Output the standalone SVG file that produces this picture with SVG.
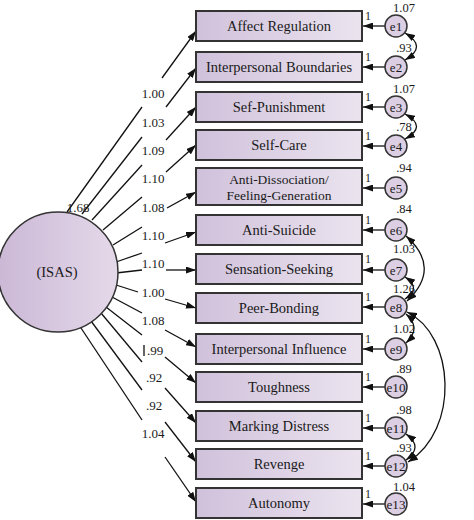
<svg xmlns="http://www.w3.org/2000/svg" width="474" height="520" viewBox="0 0 474 520">
<defs>
<linearGradient id="gb" x1="0" y1="0" x2="1" y2="0">
<stop offset="0" stop-color="#d0c1db"/><stop offset="1" stop-color="#ebe4ef"/>
</linearGradient>
<linearGradient id="gc" x1="0" y1="0" x2="1" y2="0">
<stop offset="0" stop-color="#cbb8d6"/><stop offset="1" stop-color="#e4d9e9"/>
</linearGradient>
<marker id="ah" viewBox="0 0 10 7" refX="10" refY="3.5" markerWidth="10" markerHeight="7" markerUnits="userSpaceOnUse" orient="auto-start-reverse">
<path d="M0,0 L10,3.5 L0,7 z" fill="#111"/>
</marker>
<style>
.box{fill:url(#gb);stroke:#333;stroke-width:2}
.err{fill:#dccfe3;stroke:#333;stroke-width:1.5}
.lat{fill:url(#gc);stroke:#333;stroke-width:1.5}
.ln{stroke:#111;stroke-width:1.3;fill:none}
.ar{stroke:#111;stroke-width:1.3;fill:none;marker-end:url(#ah)}
.cv{stroke:#111;stroke-width:1.3;fill:none;marker-start:url(#ah);marker-end:url(#ah)}
text{font-family:"Liberation Serif","Times New Roman",serif;fill:#1a1a1a}
.bt{font-size:14.5px;text-anchor:middle}
.bt2{font-size:13.5px;text-anchor:middle}
.lb{font-size:13px;text-anchor:middle}
.et{font-size:13px;text-anchor:middle}
.one{font-size:12px}
.vr{font-size:12.5px;text-anchor:middle}
</style>
</defs>

<g id="connectors">
<line class="ln" x1="67" y1="212" x2="142" y2="107"/><line class="ar" x1="162" y1="78" x2="196" y2="31"/>
<line class="ln" x1="82" y1="214" x2="142" y2="137"/><line class="ar" x1="166" y1="107" x2="196" y2="68"/>
<line class="ln" x1="92" y1="220" x2="142" y2="165"/><line class="ar" x1="166" y1="140" x2="196" y2="107"/>
<line class="ln" x1="103" y1="230" x2="142" y2="197"/><line class="ar" x1="166" y1="172" x2="196" y2="145"/>
<line class="ln" x1="113" y1="245" x2="142" y2="227"/><line class="ar" x1="167" y1="208" x2="196" y2="192"/>
<line class="ln" x1="116" y1="262" x2="142" y2="253"/><line class="ar" x1="165" y1="243" x2="196" y2="232"/>
<line class="ln" x1="116" y1="273" x2="142" y2="270"/><line class="ar" x1="166" y1="270" x2="196" y2="270"/>
<line class="ln" x1="116" y1="285" x2="138" y2="292"/><line class="ar" x1="165" y1="299" x2="196" y2="308"/>
<line class="ln" x1="112" y1="297" x2="142" y2="313"/><line class="ar" x1="165" y1="330" x2="196" y2="347"/>
<line class="ln" x1="106" y1="307" x2="142" y2="335"/><line class="ar" x1="165" y1="357" x2="196" y2="383"/>
<line class="ln" x1="101" y1="313" x2="142" y2="362"/><line class="ar" x1="165" y1="388" x2="196" y2="423"/>
<line class="ln" x1="91" y1="321" x2="142" y2="390"/><line class="ar" x1="165" y1="422" x2="196" y2="462"/>
<line class="ln" x1="79" y1="325" x2="142" y2="420"/><line class="ar" x1="165" y1="457" x2="196" y2="502"/>
<line class="ln" x1="144" y1="345" x2="144" y2="356"/>

<line class="ar" x1="385" y1="26" x2="363" y2="26"/>
<line class="ar" x1="385" y1="67" x2="363" y2="67"/>
<line class="ar" x1="385" y1="107" x2="363" y2="107"/>
<line class="ar" x1="385" y1="146" x2="363" y2="146"/>
<line class="ar" x1="385" y1="188" x2="363" y2="188"/>
<line class="ar" x1="385" y1="230" x2="363" y2="230"/>
<line class="ar" x1="385" y1="270" x2="363" y2="270"/>
<line class="ar" x1="385" y1="307" x2="363" y2="307"/>
<line class="ar" x1="385" y1="349" x2="363" y2="349"/>
<line class="ar" x1="385" y1="387" x2="363" y2="387"/>
<line class="ar" x1="385" y1="428" x2="363" y2="428"/>
<line class="ar" x1="385" y1="466" x2="363" y2="466"/>
<line class="ar" x1="385" y1="504" x2="363" y2="504"/>

<path class="cv" d="M405,33 Q428,46.5 405,60"/>
<path class="cv" d="M405,114 Q428,126.5 405,139"/>
<path class="cv" d="M406,236 Q442,268 407,301"/>
<path class="cv" d="M405,277 Q422,288 405,299"/>
<path class="cv" d="M406,314 Q422,328 406,343"/>
<path class="cv" d="M407,312 C455,335 460,430 408,462"/>
<path class="cv" d="M406,434 Q424,447 406,460"/>
</g>

<g id="labels">
<text class="lb" x="153" y="98">1.00</text>
<text class="lb" x="153" y="127">1.03</text>
<text class="lb" x="153" y="155">1.09</text>
<text class="lb" x="153" y="183">1.10</text>
<text class="lb" x="153" y="212">1.08</text>
<text class="lb" x="153" y="240">1.10</text>
<text class="lb" x="153" y="268">1.10</text>
<text class="lb" x="153" y="297">1.00</text>
<text class="lb" x="153" y="325">1.08</text>
<text class="lb" x="155" y="355">.99</text>
<text class="lb" x="154" y="382">.92</text>
<text class="lb" x="154" y="410">.92</text>
<text class="lb" x="153" y="438">1.04</text>
</g>

<g id="ISAS">
<circle class="lat" cx="58" cy="272" r="60"/>
<text class="bt" x="57" y="277">(ISAS)</text>
<text class="lb" x="78" y="212">1.68</text>
</g>

<g id="n1"><rect class="box" x="196" y="11" width="166" height="30"/><text class="bt" x="279" y="31">Affect Regulation</text></g>
<g id="n2"><rect class="box" x="196" y="52" width="166" height="30"/><text class="bt" x="279" y="72">Interpersonal Boundaries</text></g>
<g id="n3"><rect class="box" x="196" y="92" width="166" height="30"/><text class="bt" x="279" y="112">Sef-Punishment</text></g>
<g id="n4"><rect class="box" x="196" y="130" width="166" height="30"/><text class="bt" x="279" y="150">Self-Care</text></g>
<g id="n5"><rect class="box" x="196" y="168" width="166" height="37"/><text class="bt2" x="279" y="184">Anti-Dissociation/</text><text class="bt2" x="279" y="199.5">Feeling-Generation</text></g>
<g id="n6"><rect class="box" x="196" y="215" width="166" height="30"/><text class="bt" x="279" y="235">Anti-Suicide</text></g>
<g id="n7"><rect class="box" x="196" y="254" width="166" height="30"/><text class="bt" x="279" y="274">Sensation-Seeking</text></g>
<g id="n8"><rect class="box" x="196" y="293" width="166" height="30"/><text class="bt" x="279" y="313">Peer-Bonding</text></g>
<g id="n9"><rect class="box" x="196" y="334" width="166" height="30"/><text class="bt" x="279" y="354">Interpersonal Influence</text></g>
<g id="n10"><rect class="box" x="196" y="372" width="166" height="30"/><text class="bt" x="279" y="392">Toughness</text></g>
<g id="n11"><rect class="box" x="196" y="411" width="166" height="30"/><text class="bt" x="279" y="431">Marking Distress</text></g>
<g id="n12"><rect class="box" x="196" y="449" width="166" height="30"/><text class="bt" x="279" y="469">Revenge</text></g>
<g id="n13"><rect class="box" x="196" y="488" width="166" height="30"/><text class="bt" x="279" y="508">Autonomy</text></g>

<g id="e1"><circle class="err" cx="396" cy="26" r="11"/><text class="et" x="396" y="30.5">e1</text><text class="vr" x="404" y="12">1.07</text><text class="one" x="365" y="20">1</text></g>
<g id="e2"><circle class="err" cx="396" cy="67" r="11"/><text class="et" x="396" y="71.5">e2</text><text class="vr" x="404" y="52">.93</text><text class="one" x="365" y="61">1</text></g>
<g id="e3"><circle class="err" cx="396" cy="107" r="11"/><text class="et" x="396" y="111.5">e3</text><text class="vr" x="404" y="93">1.07</text><text class="one" x="365" y="101">1</text></g>
<g id="e4"><circle class="err" cx="396" cy="146" r="11"/><text class="et" x="396" y="150.5">e4</text><text class="vr" x="404" y="131">.78</text><text class="one" x="365" y="140">1</text></g>
<g id="e5"><circle class="err" cx="396" cy="188" r="11"/><text class="et" x="396" y="192.5">e5</text><text class="vr" x="404" y="172">.94</text><text class="one" x="365" y="182">1</text></g>
<g id="e6"><circle class="err" cx="396" cy="230" r="11"/><text class="et" x="396" y="234.5">e6</text><text class="vr" x="404" y="213">.84</text><text class="one" x="365" y="224">1</text></g>
<g id="e7"><circle class="err" cx="396" cy="270" r="11"/><text class="et" x="396" y="274.5">e7</text><text class="vr" x="404" y="253">1.03</text><text class="one" x="365" y="263">1</text></g>
<g id="e8"><circle class="err" cx="396" cy="307" r="11"/><text class="et" x="396" y="311.5">e8</text><text class="vr" x="404" y="293">1.26</text><text class="one" x="365" y="301">1</text></g>
<g id="e9"><circle class="err" cx="396" cy="349" r="11"/><text class="et" x="396" y="353.5">e9</text><text class="vr" x="404" y="333">1.02</text><text class="one" x="365" y="343">1</text></g>
<g id="e10"><circle class="err" cx="396" cy="387" r="11"/><text class="et" x="396" y="391.5" textLength="19" lengthAdjust="spacingAndGlyphs">e10</text><text class="vr" x="404" y="373">.89</text><text class="one" x="365" y="381">1</text></g>
<g id="e11"><circle class="err" cx="396" cy="428" r="11"/><text class="et" x="396" y="432.5" textLength="19" lengthAdjust="spacingAndGlyphs">e11</text><text class="vr" x="404" y="414">.98</text><text class="one" x="365" y="422">1</text></g>
<g id="e12"><circle class="err" cx="396" cy="466" r="11"/><text class="et" x="396" y="470.5" textLength="19" lengthAdjust="spacingAndGlyphs">e12</text><text class="vr" x="404" y="452">.93</text><text class="one" x="365" y="460">1</text></g>
<g id="e13"><circle class="err" cx="396" cy="504" r="11"/><text class="et" x="396" y="508.5" textLength="19" lengthAdjust="spacingAndGlyphs">e13</text><text class="vr" x="404" y="491">1.04</text><text class="one" x="365" y="498">1</text></g>
</svg>
